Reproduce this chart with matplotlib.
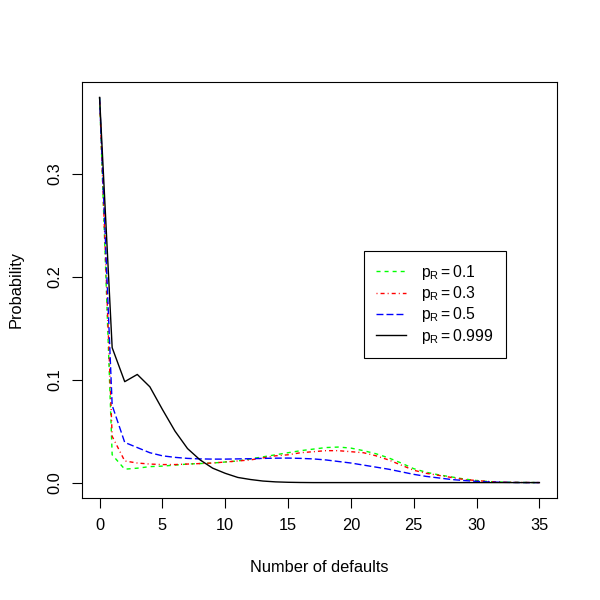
import matplotlib
matplotlib.use("Agg")
import matplotlib.pyplot as plt

plt.rcParams['font.family'] = ['Liberation Sans', 'DejaVu Sans']
plt.rcParams['mathtext.fontset'] = 'custom'
plt.rcParams['mathtext.rm'] = 'Liberation Sans'
plt.rcParams['mathtext.it'] = 'Liberation Sans'
plt.rcParams['lines.scale_dashes'] = False

defaults = list(range(0, 36))

p_01 = [0.374, 0.027, 0.013, 0.014, 0.0155, 0.016, 0.017, 0.018, 0.0185, 0.019,
        0.020, 0.021, 0.023, 0.025, 0.027, 0.029, 0.031, 0.0325, 0.034, 0.0345,
        0.0335, 0.031, 0.028, 0.024, 0.019, 0.0135, 0.010, 0.0075, 0.0055, 0.0035,
        0.002, 0.001, 0.0005, 0.0002, 0.0001, 0.0]
p_03 = [0.374, 0.045, 0.021, 0.019, 0.018, 0.0175, 0.0175, 0.018, 0.0185, 0.019,
        0.020, 0.021, 0.022, 0.024, 0.026, 0.027, 0.029, 0.030, 0.031, 0.031,
        0.030, 0.029, 0.026, 0.022, 0.017, 0.012, 0.009, 0.007, 0.005, 0.003,
        0.002, 0.001, 0.0005, 0.0002, 0.0001, 0.0]
p_05 = [0.374, 0.075, 0.039, 0.034, 0.029, 0.026, 0.0245, 0.0235, 0.023, 0.0228,
        0.0228, 0.023, 0.0232, 0.0235, 0.0237, 0.0238, 0.0235, 0.023, 0.022, 0.0205,
        0.019, 0.017, 0.015, 0.013, 0.0105, 0.008, 0.006, 0.0045, 0.003, 0.002,
        0.0012, 0.0006, 0.0003, 0.0001, 0.0, 0.0]
p_0999 = [0.374, 0.131, 0.098, 0.105, 0.093, 0.071, 0.050, 0.033, 0.022, 0.014,
          0.009, 0.005, 0.003, 0.0015, 0.0007, 0.0003, 0.0001, 0.0, 0.0, 0.0,
          0.0, 0.0, 0.0, 0.0, 0.0, 0.0, 0.0, 0.0, 0.0, 0.0,
          0.0, 0.0, 0.0, 0.0, 0.0, 0.0]

labels = [r'$\mathrm{p_R = 0.1}$', r'$\mathrm{p_R = 0.3}$',
          r'$\mathrm{p_R = 0.5}$', r'$\mathrm{p_R = 0.999}$']
xticks = [0, 5, 10, 15, 20, 25, 30, 35]
yticks = [0.0, 0.1, 0.2, 0.3]

fig = plt.figure(figsize=(6, 6), dpi=100)
ax = fig.add_axes([82/600, 1-498/600, 475/600, 416/600])

lw = 1.0
ax.plot(defaults, p_01, color='#00FF00', lw=lw, dashes=(2.9, 2.9), label=labels[0])
ax.plot(defaults, p_03, color='#FF0000', lw=lw, dashes=(0.72, 2.2, 2.9, 2.2), label=labels[1])
ax.plot(defaults, p_05, color='#0000FF', lw=lw, dashes=(5.0, 2.2), label=labels[2])
ax.plot(defaults, p_0999, color='black', lw=lw, label=labels[3])

xr = max(defaults) - min(defaults)
ax.set_xlim(min(defaults) - 0.04*xr, max(defaults) + 0.04*xr)
ymax = max(p_01 + p_03 + p_05 + p_0999)
ax.set_ylim(-0.04*ymax, ymax*1.04)

fs = 11.8
ax.set_xticks(xticks)
ax.set_xticklabels([str(t) for t in xticks], fontsize=fs)
ax.set_yticks(yticks)
ax.set_yticklabels([f'{t:.1f}' for t in yticks], fontsize=fs, rotation=90, va='center')
ax.tick_params(axis='both', direction='out', length=7.2, width=0.8, pad=7)
for s in ax.spines.values():
    s.set_linewidth(0.8)
ax.set_xlabel('Number of defaults', fontsize=fs, labelpad=20)
ax.set_ylabel('Probability', fontsize=fs, labelpad=17)

leg = ax.legend(loc='upper left', bbox_to_anchor=(282/475, (498-251)/416),
                borderaxespad=0, fancybox=False, edgecolor='black', framealpha=1,
                fontsize=11.3, handlelength=1.9, handletextpad=1.0, borderpad=0.75,
                labelspacing=0.15)
leg.get_frame().set_linewidth(0.8)

fig.savefig('out.png', dpi=100)
